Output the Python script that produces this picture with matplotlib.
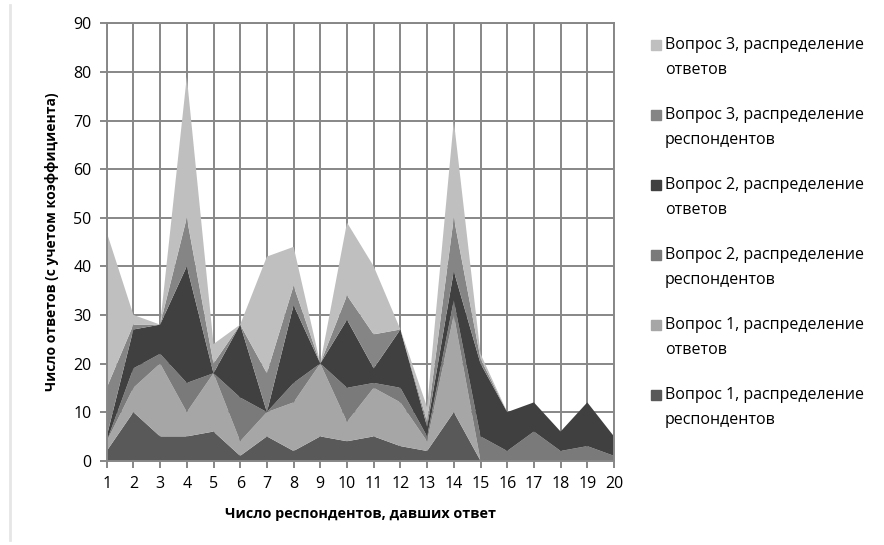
import matplotlib.pyplot as plt
from matplotlib.patches import Rectangle
from matplotlib.lines import Line2D

x = list(range(1, 21))

q1_resp = [2, 10, 5, 5, 6, 1, 5, 2, 5, 4, 5, 3, 2, 10, 0, 0, 0, 0, 0, 0]
q1_ans = [2, 5, 15, 5, 12, 3, 5, 10, 15, 4, 10, 9, 2, 20, 0, 0, 0, 0, 0, 0]
q2_resp = [0, 4, 2, 6, 0, 9, 0, 4, 0, 7, 1, 3, 1, 3, 5, 2, 6, 2, 3, 1]
q2_ans = [1, 8, 6, 24, 0, 15, 0, 16, 0, 14, 3, 12, 2, 6, 15, 8, 6, 4, 9, 4]
q3_resp = [10, 1, 0, 10, 2, 0, 8, 4, 0, 5, 7, 0, 1, 11, 1, 0, 0, 0, 0, 0]
q3_ans = [32, 2, 0, 29, 4, 0, 24, 8, 0, 15, 14, 0, 3, 20, 1, 0, 0, 0, 0, 0]

labels = ["Вопрос 1, распределение\nреспондентов",
          "Вопрос 1, распределение\nответов",
          "Вопрос 2, распределение\nреспондентов",
          "Вопрос 2, распределение\nответов",
          "Вопрос 3, распределение\nреспондентов",
          "Вопрос 3, распределение\nответов"]
colors = ['#595959', '#a6a6a6', '#7a7a7a', '#404040', '#858585', '#bfbfbf']

plt.rcParams['font.family'] = ['Open Sans', 'DejaVu Sans']

fig = plt.figure(figsize=(8.84, 5.45), dpi=100)
ax = fig.add_axes([106.7 / 884, 1 - 460.7 / 545, (614 - 106.7) / 884, (460.7 - 23.3) / 545])

ax.stackplot(x, q1_resp, q1_ans, q2_resp, q2_ans, q3_resp, q3_ans,
             colors=colors, linewidth=0, antialiased=True)

grid_c = '#878787'
ax.set_xlim(1, 20)
ax.set_ylim(0, 90)
ax.set_xticks(x)
ax.set_yticks(range(0, 91, 10))
ax.set_axisbelow(True)
ax.grid(True, color=grid_c, linewidth=1.4)
for s in ax.spines.values():
    s.set_color(grid_c)
    s.set_linewidth(1.4)
ax.tick_params(axis='both', colors=grid_c, length=5, width=1.4, labelsize=11.5,
               labelcolor='black', pad=6)

ax.set_xlabel("Число респондентов, давших ответ", fontsize=10.4, fontweight='bold', labelpad=11)
ax.set_ylabel("Число ответов (с учетом коэффициента)", fontsize=10, fontweight='bold', labelpad=10)

# legend, drawn by hand so the square sits beside the first line
for i in range(6):
    k = 5 - i
    y_px = 45 + i * 70
    fig.patches.append(Rectangle((651 / 884, 1 - (y_px + 5) / 545), 10 / 884, 10 / 545,
                                 transform=fig.transFigure, color=colors[k]))
    fig.text(665 / 884, 1 - (y_px - 8) / 545, labels[k], fontsize=11.5, va='top', ha='left',
             linespacing=1.72)

fig.lines.append(Line2D([10 / 884, 10 / 884], [0.01, 0.99], transform=fig.transFigure,
                        color='#e6e6e6', linewidth=2))

plt.savefig('out.png', dpi=100)
